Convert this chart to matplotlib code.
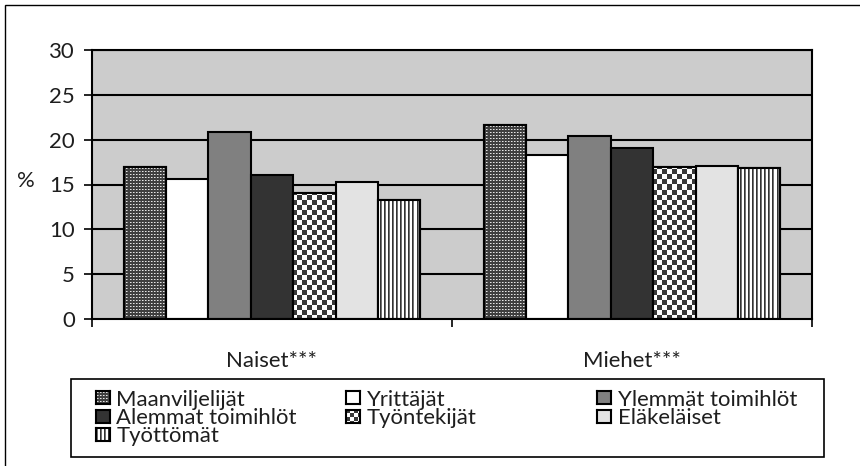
import numpy as np
import matplotlib
matplotlib.use("Agg")
import matplotlib.pyplot as plt
from matplotlib.patches import Rectangle

FONT = ['Lato', 'DejaVu Sans']
plt.rcParams['font.family'] = FONT

categories = ["Naiset***", "Miehet***"]
series = ["Maanviljelijät", "Yrittäjät", "Ylemmät toimihlöt", "Alemmat toimihlöt",
          "Työntekijät", "Eläkeläiset", "Työttömät"]
values = {
    "Maanviljelijät":    [16.9, 21.6],
    "Yrittäjät":         [15.6, 18.3],
    "Ylemmät toimihlöt": [20.8, 20.4],
    "Alemmat toimihlöt": [16.1, 19.1],
    "Työntekijät":       [14.0, 17.0],
    "Eläkeläiset":       [15.3, 17.1],
    "Työttömät":         [13.3, 16.8],
}
yticks = [0, 5, 10, 15, 20, 25, 30]

W, H = 860, 466
fig = plt.figure(figsize=(W / 100, H / 100), dpi=100)

# calibrate font size so that the legend text width matches the reference
renderer = fig.canvas.get_renderer()
probe = fig.text(0, 0, "Maanviljelijät", fontsize=10)
wpx = probe.get_window_extent(renderer).width
probe.remove()
FS = 10 * 129.0 / wpx
TXT = '#1e1e1e'

ax = fig.add_axes([92 / W, 1 - 319 / H, 720 / W, 269 / H])
ax.set_facecolor('#cccccc')

# textures (approx. screen-pixel resolution)
def tex_dots(ny, nx):
    ii, jj = np.mgrid[0:ny, 0:nx]
    img = np.full((ny, nx, 3), 0.25)
    img[(ii % 3 == 1) & (jj % 3 == 1)] = 0.9
    img[(ii % 3 == 1) & (jj % 3 == 2)] = 0.6
    return img
def tex_checker(ny, nx, c=5):
    ii, jj = np.mgrid[0:ny, 0:nx]
    img = np.ones((ny, nx, 3))
    img[((ii // c + jj // c) % 2) == 0] = 0.22
    return img
def tex_stripes(ny, nx):
    ii, jj = np.mgrid[0:ny, 0:nx]
    img = np.ones((ny, nx, 3))
    img[jj % 4 == 0] = 0.2
    img[jj % 4 == 1] = 0.45
    return img

styles = {
    "Maanviljelijät":    dict(color='#444444', tex=tex_dots),
    "Yrittäjät":         dict(color='#ffffff', tex=None),
    "Ylemmät toimihlöt": dict(color='#808080', tex=None),
    "Alemmat toimihlöt": dict(color='#333333', tex=None),
    "Työntekijät":       dict(color='#ffffff', tex=tex_checker),
    "Eläkeläiset":       dict(color='#e3e3e3', tex=None),
    "Työttömät":         dict(color='#ffffff', tex=tex_stripes),
}

for y in yticks[1:]:
    ax.axhline(y, color='black', lw=1.5, zorder=1)

n = len(series)
w = 0.1178
x = np.arange(len(categories))
for k, s in enumerate(series):
    st = styles[s]
    pos = x + (k - (n - 1) / 2) * w
    bars = ax.bar(pos, values[s], width=w, color=st['color'], edgecolor='black',
                  linewidth=1.5, zorder=3)
    if st['tex'] is not None:
        img = st['tex'](269, 720)
        for b in bars:
            im = ax.imshow(img, extent=(-0.5, 1.5, 0, 30), aspect='auto',
                           interpolation='nearest', zorder=3.5, origin='upper')
            im.set_clip_path(b)
        ax.bar(pos, values[s], width=w, fill=False, edgecolor='black',
               linewidth=1.5, zorder=4)

ax.set_xlim(-0.5, 1.5)
ax.set_ylim(0, 30)

for sp in ax.spines.values():
    sp.set_linewidth(1.5)
    sp.set_color('black')
    sp.set_zorder(5)

ax.set_yticks(yticks)
ax.tick_params(axis='y', direction='out', length=6, width=1.2, labelsize=FS,
               pad=6.5, labelcolor=TXT)
ax.set_xticks(x)
ax.set_xticklabels(categories)
ax.tick_params(axis='x', which='major', length=0, pad=23, labelsize=FS,
               labelcolor=TXT)
ax.set_xticks([-0.5, 0.5, 1.5], minor=True)
ax.tick_params(axis='x', which='minor', direction='out', length=6, width=1.2)

fig.text(26 / W, 1 - 181 / H, "%", fontsize=FS, ha='center', va='center', color=TXT)

# legend (laid out like the reference: 3 columns, row-wise)
fig.patches.append(Rectangle((71 / W, 1 - 457 / H), (824 - 71) / W, (457 - 379) / H,
                             fill=False, edgecolor='black', lw=1.2,
                             transform=fig.transFigure, figure=fig))
col_x = [95.5, 345.5, 597]
row_base = [405, 423.5, 442]
for k, s in enumerate(series):
    r, c = divmod(k, 3)
    mx, mb = col_x[c], row_base[r]
    st = styles[s]
    hax = fig.add_axes([mx / W, 1 - (mb - 1) / H, 14 / W, 13 / H])
    hax.set_xticks([]); hax.set_yticks([])
    if st['tex'] is not None:
        if st['tex'] is tex_checker:
            img = tex_checker(13, 14, c=4)
        else:
            img = st['tex'](13, 14)
        hax.imshow(img, interpolation='nearest', aspect='auto')
    else:
        hax.set_facecolor(st['color'])
    for sp in hax.spines.values():
        sp.set_linewidth(1.5)
        sp.set_color('black')
    fig.text((mx + 21) / W, 1 - (mb + 0.5) / H, s, fontsize=FS, ha='left',
             va='baseline', color=TXT)

fig.patches.append(Rectangle((5 / W, -0.05), 1.2, (461 / H) + 0.05, fill=False,
                             edgecolor='black', lw=1.0, transform=fig.transFigure,
                             figure=fig))

fig.savefig("out.png", dpi=100)
